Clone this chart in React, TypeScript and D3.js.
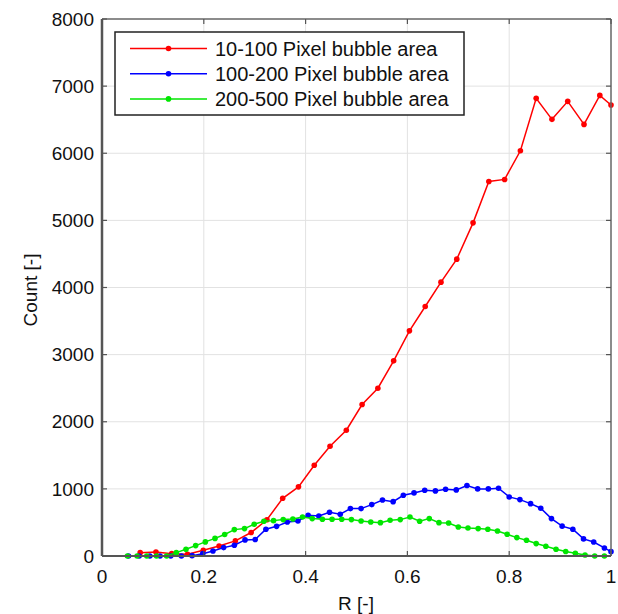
import React from "react";
import * as d3 from "d3";

const redR = [0.075, 0.106, 0.137, 0.168, 0.199, 0.230, 0.262, 0.293, 0.324, 0.355, 0.386, 0.417, 0.448, 0.480, 0.511, 0.542, 0.573, 0.604, 0.635, 0.666, 0.697, 0.729, 0.760, 0.791, 0.822, 0.853, 0.884, 0.915, 0.947, 0.978, 1.0];
const redCount = [50, 60, 35, 25, 85, 150, 225, 350, 540, 860, 1030, 1352, 1635, 1874, 2257, 2500, 2907, 3354, 3717, 4080, 4422, 4963, 5580, 5610, 6037, 6818, 6505, 6773, 6430, 6862, 6718];

const blueR = [0.052, 0.073, 0.094, 0.114, 0.135, 0.156, 0.177, 0.198, 0.218, 0.239, 0.260, 0.281, 0.301, 0.322, 0.343, 0.364, 0.385, 0.405, 0.426, 0.447, 0.468, 0.488, 0.509, 0.530, 0.551, 0.572, 0.592, 0.613, 0.634, 0.655, 0.675, 0.696, 0.717, 0.738, 0.759, 0.779, 0.800, 0.821, 0.842, 0.862, 0.883, 0.904, 0.925, 0.946, 0.966, 0.987, 1.0];
const blueCount = [0, 0, 0, 0, 0, 0, 5, 35, 75, 125, 160, 240, 245, 398, 442, 506, 521, 606, 596, 651, 622, 706, 706, 766, 835, 810, 905, 940, 980, 970, 995, 985, 1050, 1000, 1000, 1010, 880, 840, 780, 712, 557, 445, 398, 255, 209, 120, 65];

const greenR = [0.050, 0.069, 0.088, 0.107, 0.127, 0.146, 0.165, 0.184, 0.203, 0.222, 0.241, 0.260, 0.280, 0.299, 0.318, 0.337, 0.356, 0.375, 0.394, 0.413, 0.433, 0.452, 0.471, 0.490, 0.509, 0.528, 0.547, 0.566, 0.586, 0.605, 0.624, 0.643, 0.662, 0.681, 0.700, 0.719, 0.739, 0.758, 0.777, 0.796, 0.815, 0.834, 0.853, 0.872, 0.892, 0.911, 0.930, 0.949, 0.968, 0.987];
const greenCount = [0, 0, 0, 0, 0, 50, 100, 155, 210, 262, 320, 393, 408, 472, 517, 527, 542, 551, 581, 557, 547, 547, 547, 542, 522, 507, 497, 532, 542, 581, 517, 557, 497, 492, 432, 418, 408, 398, 373, 323, 274, 234, 185, 145, 100, 66, 40, 15, 0, 0];

const seriesNames = ["10-100 Pixel bubble area", "100-200 Pixel bubble area", "200-500 Pixel bubble area"];
const seriesColors = ["#ff0000", "#0000ff", "#00e600"];
const xTicks = [0, 0.2, 0.4, 0.6, 0.8, 1];
const yTicks = [0, 1000, 2000, 3000, 4000, 5000, 6000, 7000, 8000];
const xLabel = "R [-]";
const yLabel = "Count [-]";

const W = 618;
const H = 614;
const L = 102, R = 611, T = 19, B = 556;
const FONT = "'Liberation Sans', Arial, Helvetica, sans-serif";

export default function App() {
  const x = d3.scaleLinear().domain([0, 1]).range([L, R]);
  const y = d3.scaleLinear().domain([0, 8000]).range([B, T]);
  const line = d3.line<[number, number]>().x((d) => x(d[0])).y((d) => y(d[1]));

  const series = [
    { xs: redR, ys: redCount },
    { xs: blueR, ys: blueCount },
    { xs: greenR, ys: greenCount },
  ].map((s, i) => ({
    pts: s.xs.map((v, j) => [v, s.ys[j]] as [number, number]),
    color: seriesColors[i],
    name: seriesNames[i],
  }));

  const tickLen = 5;
  const legX = 115, legY = 32, legW = 349, legH = 83;

  return (
    <svg width={W} height={H} style={{ position: "absolute", left: 0, top: 0, background: "#fff" }} fontFamily={FONT}>
      <rect x={0} y={0} width={W} height={H} fill="#fff" />
      {/* grid */}
      {xTicks.slice(1, -1).map((t) => (
        <line key={"gx" + t} x1={x(t)} x2={x(t)} y1={T} y2={B} stroke="#e2e2e2" strokeWidth={1} />
      ))}
      {yTicks.slice(1, -1).map((t) => (
        <line key={"gy" + t} x1={L} x2={R} y1={y(t)} y2={y(t)} stroke="#e2e2e2" strokeWidth={1} />
      ))}
      {/* series */}
      {series.map((s, i) => (
        <g key={"s" + i}>
          <path d={line(s.pts) || ""} fill="none" stroke={s.color} strokeWidth={1.5} />
          {s.pts.map((p, j) => (
            <circle key={j} cx={x(p[0])} cy={y(p[1])} r={2.8} fill={s.color} />
          ))}
        </g>
      ))}
      {/* box */}
      <line x1={L} x2={R} y1={T} y2={T} stroke="#666" strokeWidth={1.5} />
      <line x1={R} x2={R} y1={T} y2={B} stroke="#666" strokeWidth={1.5} />
      <line x1={L} x2={R} y1={B} y2={B} stroke="#555" strokeWidth={2} />
      <line x1={L} x2={L} y1={T} y2={B} stroke="#555" strokeWidth={2.5} />
      {/* ticks */}
      {xTicks.map((t) => (
        <g key={"tx" + t}>
          <line x1={x(t)} x2={x(t)} y1={B} y2={B - tickLen} stroke="#555" strokeWidth={1.2} />
          <line x1={x(t)} x2={x(t)} y1={T} y2={T + tickLen} stroke="#555" strokeWidth={1.2} />
          <text x={x(t)} y={583} textAnchor="middle" fontSize={19} fill="#111">
            {t === 0 || t === 1 ? String(t) : t.toFixed(1)}
          </text>
        </g>
      ))}
      {yTicks.map((t) => (
        <g key={"ty" + t}>
          <line x1={L} x2={L + tickLen} y1={y(t)} y2={y(t)} stroke="#555" strokeWidth={1.2} />
          <line x1={R} x2={R - tickLen} y1={y(t)} y2={y(t)} stroke="#555" strokeWidth={1.2} />
          <text x={94} y={y(t)} dy="0.35em" textAnchor="end" fontSize={19} fill="#111">
            {t}
          </text>
        </g>
      ))}
      {/* axis labels */}
      <text x={356} y={610} textAnchor="middle" fontSize={19} fill="#111">{xLabel}</text>
      <text transform={`translate(37,290) rotate(-90)`} textAnchor="middle" fontSize={19} fill="#111">{yLabel}</text>
      {/* legend */}
      <rect x={legX} y={legY} width={legW} height={legH} fill="#fff" stroke="#222" strokeWidth={1.5} />
      {series.map((s, i) => {
        const cy = 48.5 + i * 25.2;
        return (
          <g key={"lg" + i}>
            <line x1={130} x2={207} y1={cy} y2={cy} stroke={s.color} strokeWidth={1.5} />
            <circle cx={168.5} cy={cy} r={2.8} fill={s.color} />
            <text x={215} y={cy} dy="0.36em" fontSize={20} fill="#111">{s.name}</text>
          </g>
        );
      })}
    </svg>
  );
}
